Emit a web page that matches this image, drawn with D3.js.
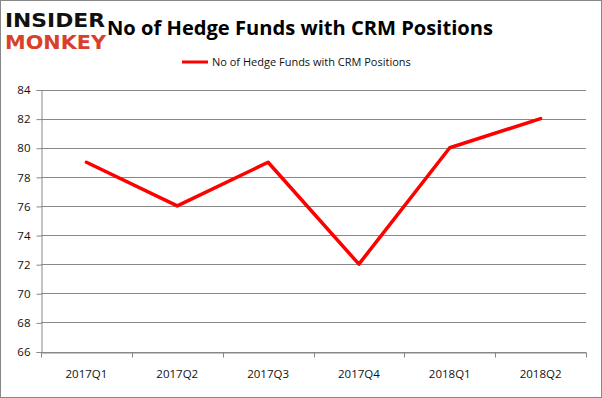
<!DOCTYPE html>
<html>
<head>
<meta charset="utf-8">
<script src="https://cdn.jsdelivr.net/npm/d3@7"></script>
<style>
  body { margin: 0; background: #fff; }
  svg { display: block; font-family: "Open Sans", "Liberation Sans", sans-serif; }
</style>
</head>
<body>
<svg id="chart" width="602" height="398"></svg>
<script>
var quarters = ['2017Q1', '2017Q2', '2017Q3', '2017Q4', '2018Q1', '2018Q2'];
var funds = [79, 76, 79, 72, 80, 82];
var yTicks = [66, 68, 70, 72, 74, 76, 78, 80, 82, 84];
var seriesName = 'No of Hedge Funds with CRM Positions';

var svg = d3.select('#chart');

// outer border
svg.append('rect')
    .attr('x', 0.5).attr('y', 0.5)
    .attr('width', 601).attr('height', 397)
    .attr('fill', 'none').attr('stroke', '#888');

// logo
svg.append('text').attr('x', 5).attr('y', 27)
    .attr('font-family', 'DejaVu Sans, sans-serif').attr('font-weight', 'bold')
    .attr('font-size', 19).attr('textLength', 100).attr('lengthAdjust', 'spacingAndGlyphs')
    .attr('fill', '#111').text('INSIDER');
svg.append('text').attr('x', 5).attr('y', 49)
    .attr('font-family', 'DejaVu Sans, sans-serif').attr('font-weight', 'bold')
    .attr('font-size', 19).attr('textLength', 101).attr('lengthAdjust', 'spacingAndGlyphs')
    .attr('fill', '#d9402b').text('MONKEY');

// title
svg.append('text').attr('x', 300).attr('y', 35)
    .attr('text-anchor', 'middle').attr('font-weight', 'bold')
    .attr('font-size', 20).attr('textLength', 386).attr('lengthAdjust', 'spacingAndGlyphs')
    .attr('fill', '#000').text(seriesName);

// legend
svg.append('line').attr('x1', 182).attr('x2', 208).attr('y1', 62).attr('y2', 62)
    .attr('stroke', '#ff0000').attr('stroke-width', 3);
svg.append('text').attr('x', 212).attr('y', 66)
    .attr('font-size', 11).attr('fill', '#111').text(seriesName);

var plotLeft = 41, plotRight = 586, plotTop = 89.5, plotBottom = 351.5;

var x = d3.scaleBand().domain(quarters).range([plotLeft, plotRight]);
var y = d3.scaleLinear().domain([66, 84]).range([plotBottom, plotTop]);

// gridlines
svg.append('g').selectAll('line').data(yTicks).enter().append('line')
    .attr('x1', plotLeft).attr('x2', plotRight)
    .attr('y1', function (d) { return Math.round(y(d)) + 0.5; })
    .attr('y2', function (d) { return Math.round(y(d)) + 0.5; })
    .attr('stroke', '#888').attr('stroke-width', 1);

// y axis
var yAxis = svg.append('g')
    .attr('transform', 'translate(' + (plotLeft + 0.5) + ',0.5)')
    .call(d3.axisLeft(y).tickValues(yTicks).tickSize(5).tickPadding(6));
yAxis.select('.domain').attr('stroke', '#888');
yAxis.selectAll('.tick line').attr('stroke', '#888');
yAxis.selectAll('text').attr('font-size', 11.5).attr('fill', '#111')
    .attr('font-family', 'Open Sans, sans-serif');

// x axis
var xAxis = svg.append('g')
    .attr('transform', 'translate(0,' + (Math.round(plotBottom) + 0.5) + ')')
    .call(d3.axisBottom(x).tickSize(0).tickPadding(17));
xAxis.select('.domain').attr('stroke', '#888');
xAxis.selectAll('text').attr('font-size', 11.5).attr('fill', '#111')
    .attr('font-family', 'Open Sans, sans-serif');
// tick marks at category boundaries
var bounds = quarters.map(function (q) { return x(q); }).concat([plotRight]);
xAxis.selectAll('.bound').data(bounds).enter().append('line')
    .attr('class', 'bound')
    .attr('x1', function (d) { return Math.round(d) + 0.5; })
    .attr('x2', function (d) { return Math.round(d) + 0.5; })
    .attr('y1', 0).attr('y2', 5)
    .attr('stroke', '#888');

// series line
var line = d3.line()
    .x(function (d, i) { return x(quarters[i]) + x.bandwidth() / 2; })
    .y(function (d) { return y(d); });

svg.append('path').datum(funds)
    .attr('d', line)
    .attr('fill', 'none')
    .attr('stroke', '#ff0000')
    .attr('stroke-width', 3.5)
    .attr('stroke-linejoin', 'round')
    .attr('stroke-linecap', 'round');
</script>
</body>
</html>
